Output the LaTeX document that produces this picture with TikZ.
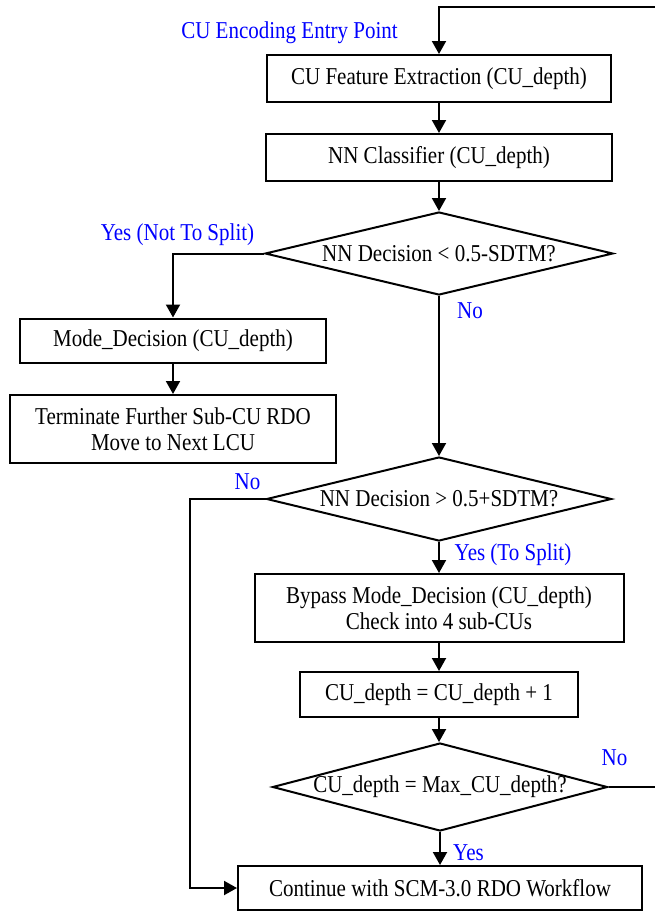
\documentclass[tikz,border=0pt]{standalone}
\usepackage{fontspec}
\setmainfont{Liberation Serif}
\newfontfamily\tallfont[FakeStretch=0.868]{Liberation Serif}
\usetikzlibrary{shapes.geometric,arrows.meta}
\tikzset{
  txt/.style={font=\tallfont\fontsize{24.2}{25.5}\selectfont},
  proc/.style={txt, draw, line width=2pt, inner sep=0pt, align=center},
  dec/.style={diamond, draw, line width=2pt, inner sep=0pt},
  dectxt/.style={txt, inner sep=0pt},
  lbl/.style={txt, text=blue, inner sep=0pt},
  flow/.style={line width=2pt, -{Triangle[length=13pt,width=14pt]}},
}
\begin{document}
\begin{tikzpicture}[x=1pt,y=-1pt]
\useasboundingbox (0,0) rectangle (654,911);

\node[proc, minimum width=344pt, minimum height=47pt] (feat) at (439,78.5) {CU Feature Extraction (CU\_depth)};
\node[proc, minimum width=346pt, minimum height=47pt] (nn) at (439,157.5) {NN Classifier (CU\_depth)};
\node[dec, minimum width=348pt, minimum height=83pt, label={[dectxt]center:{NN Decision < 0.5-SDTM?}}] (d1) at (439,253.5) {};
\node[proc, minimum width=306pt, minimum height=44pt] (mode) at (173,340.5) {Mode\_Decision (CU\_depth)};
\node[proc, minimum width=326pt, minimum height=68pt] (term) at (173,429) {Terminate Further Sub-CU RDO\\Move to Next LCU};
\node[dec, minimum width=345pt, minimum height=84pt, label={[dectxt]center:{NN Decision > 0.5+SDTM?}}] (d2) at (439,499) {};
\node[proc, minimum width=369pt, minimum height=68pt] (bypass) at (439,608) {Bypass Mode\_Decision (CU\_depth)\\Check into 4 sub-CUs};
\node[proc, minimum width=278pt, minimum height=45pt] (inc) at (439,694.5) {CU\_depth = CU\_depth + 1};
\node[dec, minimum width=335pt, minimum height=88pt, label={[dectxt]center:{CU\_depth = Max\_CU\_depth?}}] (d3) at (440,787) {};
\node[proc, minimum width=404pt, minimum height=44pt] (cont) at (440,888) {Continue with SCM-3.0 RDO Workflow};

\node[lbl] (entry) at (289.5,33) {CU Encoding Entry Point};
\node[lbl] (ynot) at (177.5,235) {Yes (Not To Split)};
\node[lbl] (no1) at (470,311) {No};
\node[lbl] (no2) at (247.5,482) {No};
\node[lbl] (ysplit) at (513,555) {Yes (To Split)};
\node[lbl] (no3) at (614.5,758) {No};
\node[lbl] (yes3) at (468.5,853) {Yes};

\coordinate (loop) at (657,7);
\coordinate (lft) at (190,499);

\draw[flow] (feat) -- (nn);
\draw[flow] (nn) -- (d1);
\draw[flow] (d1.west) -| (mode.north);
\draw[flow] (mode) -- (term);
\draw[flow] (d1.south) -- (d2.north);
\draw[flow] (d2.west) -- (lft) |- (cont.west);
\draw[flow] (d2.south) -- (bypass.north);
\draw[flow] (bypass) -- (inc);
\draw[flow] (inc.south) -- (inc.south |- d3.north);
\draw[flow] (d3.south) -- (d3.south |- cont.north);
\draw[flow] (d3.east) -| (loop) -| (feat.north);
\end{tikzpicture}
\end{document}
